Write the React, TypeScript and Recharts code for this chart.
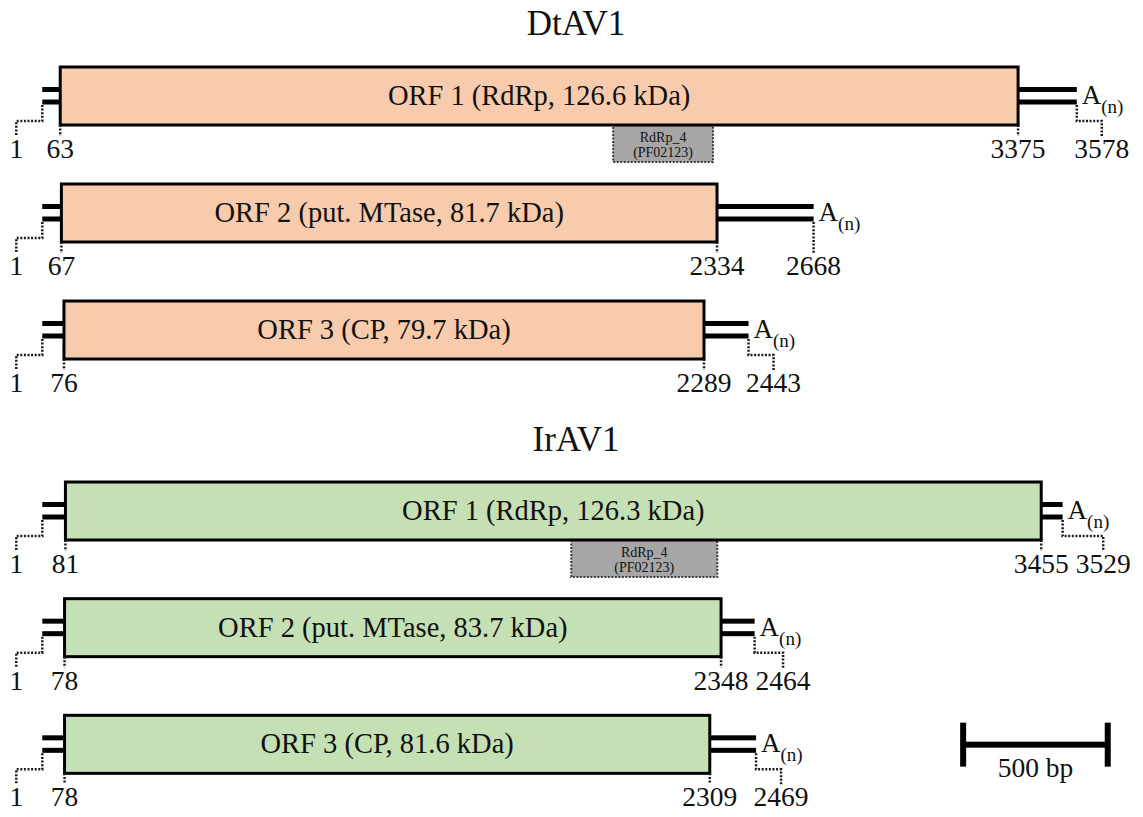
import React from 'react';
import { ComposedChart, Bar, XAxis, YAxis, ReferenceLine } from 'recharts';

// genome maps, positions in nt
const dtLabels = ['ORF 1 (RdRp, 126.6 kDa)', 'ORF 2 (put. MTase, 81.7 kDa)', 'ORF 3 (CP, 79.7 kDa)'];
const dtStart = [63, 67, 76];
const dtEnd = [3375, 2334, 2289];
const dtTotal = [3578, 2668, 2443];
const dtDomain = [1975, 2320];

const irLabels = ['ORF 1 (RdRp, 126.3 kDa)', 'ORF 2 (put. MTase, 83.7 kDa)', 'ORF 3 (CP, 81.6 kDa)'];
const irStart = [81, 78, 78];
const irEnd = [3455, 2348, 2309];
const irTotal = [3529, 2464, 2469];
const irDomain = [1830, 2335];

const domainName = 'RdRp_4';
const domainAcc = '(PF02123)';
const scaleBarFrom = 3185;
const scaleBarBp = 500;
const genomeMax = 3800;

const FONT = '"Liberation Serif", "Times New Roman", serif';
const DT_FILL = '#f8cbad';
const IR_FILL = '#c5e0b4';

const buildRows = (labels: string[], start: number[], end: number[], total: number[], domain: number[]) =>
  labels.map((label, i) => ({
    row: `r${i + 1}`,
    label,
    orf: [start[i], end[i]],
    start: start[i],
    end: end[i],
    total: total[i],
    domain: i === 0 ? domain : null,
  }));

const dtRows = buildRows(dtLabels, dtStart, dtEnd, dtTotal, dtDomain);
const irRows = buildRows(irLabels, irStart, irEnd, irTotal, irDomain);

const dotted = { stroke: '#1a1a1a', strokeWidth: 2.5, strokeDasharray: '2 1.6', fill: 'none' };

const OrfShape = (props: any) => {
  const { x, y, width, height, payload, fill } = props;
  const { start, end, total, label, domain } = payload;
  // linear scale recovered from the bar the library placed
  const k = width / (end - start);
  const px = (v: number) => x + (v - start) * k;
  const cy = y + height / 2;
  const x0 = px(1);
  const x1 = x + width;
  const xt = px(total);
  const numY = cy + 62;
  const stepY = cy + 25;
  const downY = cy + 40;
  // push the last number aside when it would collide with the stop codon position
  const tailLabelX = xt - x1 < 70 ? Math.max(xt + 25, x1 + 62) : xt;
  const startLabelX = x0 - 26;

  return (
    <g>
      {/* 5' UTR double line */}
      <rect x={x0} y={cy - 9} width={x - x0} height={5} fill="#000" />
      <rect x={x0} y={cy + 3.5} width={x - x0} height={5} fill="#000" />
      {/* 3' UTR double line */}
      <rect x={x1} y={cy - 9} width={xt - x1} height={5} fill="#000" />
      <rect x={x1} y={cy + 3.5} width={xt - x1} height={5} fill="#000" />

      {/* domain box */}
      {domain && (
        <g>
          <rect x={px(domain[0])} y={y + height} width={px(domain[1]) - px(domain[0])} height={37}
            fill="#a6a6a6" stroke="#3a3a3a" strokeWidth={2} strokeDasharray="2 1.5" />
          <text x={(px(domain[0]) + px(domain[1])) / 2} y={y + height + 17} textAnchor="middle"
            fontFamily={FONT} fontSize={14} fill="#111">{domainName}</text>
          <text x={(px(domain[0]) + px(domain[1])) / 2} y={y + height + 32} textAnchor="middle"
            fontFamily={FONT} fontSize={14} fill="#111">{domainAcc}</text>
        </g>
      )}

      <rect x={x} y={y} width={width} height={height} fill={fill} stroke="#000" strokeWidth={3} />
      <text x={x + width / 2} y={cy + 9} textAnchor="middle" fontFamily={FONT} fontSize={28.5} fill="#111">{label}</text>

      {/* leaders */}
      <polyline points={`${x0},${cy + 9} ${x0},${stepY} ${startLabelX},${stepY} ${startLabelX},${downY}`} {...dotted} />
      <line x1={x} y1={y + height} x2={x} y2={downY} {...dotted} />
      <line x1={x1} y1={y + height} x2={x1} y2={downY} {...dotted} />
      {tailLabelX === xt ? (
        <line x1={xt} y1={cy + 9} x2={xt} y2={downY} {...dotted} />
      ) : (
        <polyline points={`${xt},${cy + 9} ${xt},${stepY} ${tailLabelX},${stepY} ${tailLabelX},${downY}`} {...dotted} />
      )}

      <text x={startLabelX} y={numY} textAnchor="middle" fontFamily={FONT} fontSize={27.5} fill="#111">1</text>
      <text x={x} y={numY} textAnchor="middle" fontFamily={FONT} fontSize={27.5} fill="#111">{start}</text>
      <text x={x1} y={numY} textAnchor="middle" fontFamily={FONT} fontSize={27.5} fill="#111">{end}</text>
      <text x={tailLabelX} y={numY} textAnchor="middle" fontFamily={FONT} fontSize={27.5} fill="#111">{total}</text>

      <text x={xt + 5} y={cy + 8} fontFamily={FONT} fontSize={27} fill="#111">
        A<tspan fontSize={19} dy={9}>(n)</tspan>
      </text>
    </g>
  );
};

const ScaleBarShape = (props: any) => {
  const { x1, y1, x2 } = props;
  return (
    <g>
      <rect x={x1} y={y1 - 3} width={x2 - x1} height={6} fill="#000" />
      <rect x={x1 - 3} y={y1 - 22} width={6} height={44} fill="#000" />
      <rect x={x2 - 3} y={y1 - 22} width={6} height={44} fill="#000" />
      <text x={(x1 + x2) / 2} y={y1 + 32} textAnchor="middle" fontFamily={FONT} fontSize={27.5} fill="#111">
        {scaleBarBp} bp
      </text>
    </g>
  );
};

const titleStyle: React.CSSProperties = {
  position: 'absolute',
  left: 476,
  width: 200,
  textAlign: 'center',
  fontFamily: FONT,
  fontSize: 35,
  lineHeight: '35px',
  color: '#111',
};

const App: React.FC = () => {
  return (
    <div style={{ position: 'absolute', left: 0, top: 0, width: 1143, height: 817, background: '#fff', overflow: 'hidden' }}>
      <div style={{ ...titleStyle, top: 6 }}>DtAV1</div>
      <div style={{ position: 'absolute', left: 0, top: 0 }}>
        <ComposedChart width={1143} height={400} data={dtRows} layout="vertical"
          margin={{ top: 37, right: 2, bottom: 12, left: 42 }}>
          <XAxis type="number" domain={[0, genomeMax]} hide />
          <YAxis type="category" dataKey="row" hide />
          <Bar dataKey="orf" fill={DT_FILL} barSize={58} shape={<OrfShape />} isAnimationActive={false} />
        </ComposedChart>
      </div>

      <div style={{ ...titleStyle, top: 422 }}>IrAV1</div>
      <div style={{ position: 'absolute', left: 0, top: 405 }}>
        <ComposedChart width={1143} height={412} data={irRows} layout="vertical"
          margin={{ top: 48, right: 2, bottom: 14, left: 42 }}>
          <XAxis type="number" domain={[0, genomeMax]} hide />
          <YAxis type="category" dataKey="row" hide />
          <Bar dataKey="orf" fill={IR_FILL} barSize={58} shape={<OrfShape />} isAnimationActive={false} />
          <ReferenceLine
            segment={[{ x: scaleBarFrom, y: 'r3' }, { x: scaleBarFrom + scaleBarBp, y: 'r3' }]}
            shape={ScaleBarShape}
          />
        </ComposedChart>
      </div>
    </div>
  );
};

export default App;
